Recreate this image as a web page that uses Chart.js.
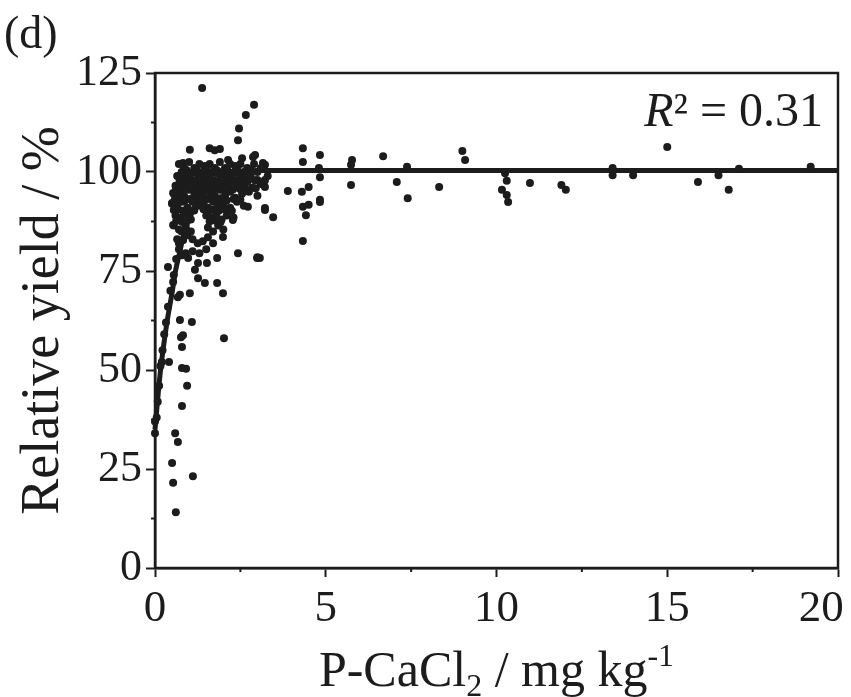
<!DOCTYPE html>
<html>
<head>
<meta charset="utf-8">
<script src="https://cdn.jsdelivr.net/npm/chart.js@4.4.1/dist/chart.umd.min.js"></script>
<style>
  body { margin: 0; background: #fff; }
  #wrap { width: 851px; height: 697px; }
</style>
</head>
<body>
<div id="wrap"><canvas id="chart" width="851" height="697"></canvas></div>
<script>
// P-CaCl2 (mg/kg) and relative yield (%)
const pCaCl2 = [
    // sparse points right of the cluster
    4.33, 4.33, 4.83, 4.8, 4.83, 4.83, 5.74, 5.77, 5.74, 6.68, 7.38, 7.08, 7.4, 8.32,
    9.0, 9.08, 10.3, 10.16, 10.3, 10.34, 10.25, 10.98, 12.03, 11.9, 13.4, 13.4, 14.0,
    15.0, 15.9, 16.5, 16.8, 17.1, 19.2,
    4.33, 4.5, 4.5, 4.42, 4.83, 4.33, 3.89, 4.3,
    3.22, 3.22, 3.22, 3.22, 3.46, 3.07,
    // upper outliers
    1.38, 2.9, 2.66, 2.46, 2.43, 1.02, 1.6, 1.9, 2.55, 2.87, 0.82, 2.14, 3.16, 2.93, 1.75,
    // below the cluster
    0.53, 0.5, 2.72, 3.22, 0.53, 0.82, 2.28, 1.99, 2.43, 3.0,
    0.38, 0.79, 0.97, 1.26, 1.52, 1.82, 2.99, 1.17, 1.26, 1.46, 1.82, 1.99, 1.02, 0.73,
    0.53, 1.08, 0.73, 0.82, 0.76, 2.02, 0.79, 0.41, 0.79, 0.91, 0.94, 0.79, 0.59, 0.67,
    0.5, 1.11, 0.53, 0.61, 0.0, 0.0, 0.2, 0.67,
    // along the rising curve
    0.05, 0.08, 0.12, 0.16, 0.22, 0.27, 0.32, 0.38, 0.45, 0.55, 0.62, 0.7, 0.78,
    // dense cluster
    0.7, 0.85, 1.0, 1.15, 1.3, 1.45, 1.6, 1.75, 1.9, 2.05, 2.2, 2.35, 2.5, 2.7, 2.9, 3.1,
    0.78, 0.92, 1.08, 1.22, 1.38, 1.52, 1.68, 1.82, 1.98, 2.12, 2.28, 2.42, 2.6, 2.8, 3.0,
    0.65, 0.8, 0.95, 1.1, 1.25, 1.4, 1.55, 1.7, 1.85, 2.0, 2.15, 2.3, 2.45, 2.6, 2.8, 3.0, 3.3,
    0.72, 0.88, 1.02, 1.18, 1.32, 1.48, 1.62, 1.78, 1.92, 2.08, 2.22, 2.38, 2.52, 2.7, 2.92, 3.2,
    0.6, 0.75, 0.9, 1.05, 1.2, 1.35, 1.5, 1.65, 1.8, 1.95, 2.1, 2.25, 2.4, 2.6, 2.85, 3.1,
    0.62, 0.78, 0.92, 1.08, 1.22, 1.38, 1.52, 1.68, 1.82, 1.98, 2.12, 2.28, 2.48, 2.68, 2.95,
    0.55, 0.7, 0.85, 1.0, 1.15, 1.3, 1.45, 1.6, 1.75, 1.9, 2.05, 2.2, 2.35, 2.55, 2.75, 3.0,
    0.58, 0.72, 0.88, 1.02, 1.18, 1.32, 1.48, 1.62, 1.78, 1.92, 2.1, 2.3, 2.5,
    0.5, 0.65, 0.8, 0.95, 1.1, 1.25, 1.4, 1.55, 1.7, 1.85, 2.0, 2.2, 2.4, 2.6,
    0.55, 0.68, 0.82, 0.98, 1.15, 1.42, 1.58, 1.72, 1.88, 2.05, 2.25,
    0.6, 0.75, 0.9, 1.05, 1.5, 1.65, 1.8, 1.95, 2.1, 2.3,
    0.62, 0.8, 0.95, 1.6, 1.78, 1.92,
    0.55, 0.7, 0.9, 1.05, 1.55, 1.7, 1.85, 2.0,
    0.65, 0.82, 0.95, 1.1, 1.25, 1.4, 1.55, 1.7,
    0.7, 0.9, 1.1, 1.3, 1.5
];
const relYield = [
    106, 102.5, 104.3, 101, 98.7, 93, 101.8, 103, 96.7, 104, 101.3, 97.5, 93.4, 96.2,
    105.3, 103, 97.8, 95.5, 94.2, 92.4, 99.7, 97.2, 95.5, 96.7, 101, 99.2, 99.2,
    106.3, 97.5, 99.2, 95.5, 100.8, 101.3,
    91.2, 96.2, 91.7, 89.1, 92.4, 82.6, 95.2, 95,
    101.8, 98, 96.2, 90.9, 88.6, 78.3,
    121.2, 117, 114.4, 111, 108, 105.6, 106, 105.8, 103.5, 103.8, 102.3, 103, 102.3, 104.3, 105.5,
    94.7, 92.2, 91.2, 90.4, 86.6, 82.8, 87.9, 83.6, 79.5, 78.5,
    76, 79, 78.3, 77, 77, 78.3, 78.3, 75.3, 73.2, 72, 72, 69.4, 69.4, 69,
    72.2, 62.1, 62.6, 58.8, 58.3, 58, 55.8, 52, 50.5, 50.3, 46, 40.9, 34, 31.8,
    26.5, 23.2, 21.5, 14.1, 37, 34, 52, 68.4,
    38, 42, 46, 51, 55, 59, 62, 66, 70, 74, 78, 82, 85,
    102, 101, 102.5, 101, 102, 101.5, 102, 101, 102.5, 101, 102, 101.5, 102, 101, 102, 101,
    100, 100.5, 99.8, 100.3, 100, 100.6, 99.9, 100.4, 100, 100.5, 99.8, 100.3, 100, 100.5, 100,
    99, 98.5, 99.5, 98, 99.5, 98.5, 99, 98, 99.5, 98.5, 99, 98, 99.5, 98.5, 99, 98, 99,
    97.8, 97.5, 98, 97.7, 97.9, 97.5, 98, 97.6, 97.9, 97.5, 98, 97.7, 97.8, 97.5, 97.9, 97.6,
    96.5, 97, 96, 97.5, 96.5, 97, 96, 97.5, 96.5, 97, 96, 97.5, 96.5, 97, 96, 97,
    95.8, 95.5, 96, 95.6, 95.9, 95.5, 96, 95.7, 95.9, 95.5, 96, 95.6, 95.8, 95.5, 95.9,
    94.5, 95, 94, 95.5, 94, 95, 93.5, 95, 94, 95.5, 94, 95, 93.5, 94.5, 95, 94,
    93, 93.4, 92.8, 93.2, 93, 93.5, 92.9, 93.3, 93, 93.4, 92.8, 93.2, 93,
    92, 91.5, 92.5, 91, 92.5, 91.5, 92, 91, 92.5, 91.5, 92, 91, 92.5, 91.5,
    90.4, 90.6, 90.2, 90.5, 90.3, 90.6, 90.2, 90.5, 90.3, 90.6, 90.2,
    89, 88.5, 89.5, 88, 89, 88.5, 89.5, 88, 89, 88.5,
    87.6, 87.4, 87.8, 87.5, 87.7, 87.4,
    86.5, 85.5, 86, 85, 86, 85, 86.5, 85.5,
    83, 82.8, 84, 83, 82, 82.5, 83.5, 82,
    80.5, 79.5, 80, 79.5, 80.5
];

// fitted response curve
const fitX = [0, 0.15, 0.35, 0.5, 0.6, 0.73, 0.85, 1.0, 1.2, 1.5, 2.0, 2.5, 3.0, 20];
const fitY = [35, 49, 62, 69.5, 75, 80, 84.5, 88, 92, 95.5, 98.5, 99.8, 100.4, 100.4];

const yTicks = [0, 25, 50, 75, 100, 125];
const xTicks = [0, 5, 10, 15, 20];

const fontFamily = "'Liberation Serif', 'Times New Roman', serif";
const ink = "#1c1c1c";

// box, minor ticks and the extra texts
const decorations = {
    id: "decorations",
    afterDraw(chart) {
        const ctx = chart.ctx;
        const area = chart.chartArea;
        const xs = chart.scales.x;
        const ys = chart.scales.y;

        ctx.save();
        ctx.strokeStyle = ink;
        ctx.lineWidth = 2.5;
        ctx.strokeRect(area.left, area.top, area.right - area.left, area.bottom - area.top);

        ctx.lineWidth = 2;
        for (let v = 12.5; v < 125; v += 25) {
            const py = ys.getPixelForValue(v);
            ctx.beginPath();
            ctx.moveTo(area.left - 4, py);
            ctx.lineTo(area.left, py);
            ctx.stroke();
        }
        for (let v = 2.5; v < 20; v += 5) {
            const px = xs.getPixelForValue(v);
            ctx.beginPath();
            ctx.moveTo(px, area.bottom);
            ctx.lineTo(px, area.bottom + 4);
            ctx.stroke();
        }

        ctx.fillStyle = ink;
        ctx.textBaseline = "alphabetic";

        // panel letter
        ctx.font = `46px ${fontFamily}`;
        ctx.textAlign = "left";
        ctx.fillText("(d)", 4, 48);

        // R² label
        const rest = "\u00b2 = 0.31";
        ctx.font = `48px ${fontFamily}`;
        const restW = ctx.measureText(rest).width;
        ctx.fillText(rest, 823 - restW, 126);
        ctx.font = `italic 48px ${fontFamily}`;
        ctx.textAlign = "right";
        ctx.fillText("R", 823 - restW, 126);

        // x-axis title with sub/superscript
        const parts = [
            { t: "P-CaCl", size: 50, dy: 0 },
            { t: "2", size: 32, dy: 10 },
            { t: " / mg kg", size: 50, dy: 0 },
            { t: "-1", size: 32, dy: -20 }
        ];
        let total = 0;
        for (let p of parts) {
            ctx.font = `${p.size}px ${fontFamily}`;
            p.w = ctx.measureText(p.t).width;
            total += p.w;
        }
        let cx = (area.left + area.right) / 2 - total / 2;
        ctx.textAlign = "left";
        for (let p of parts) {
            ctx.font = `${p.size}px ${fontFamily}`;
            ctx.fillText(p.t, cx, 686 + p.dy);
            cx += p.w;
        }
        ctx.restore();
    }
};

function createChart() {
    const points = [];
    for (let i = 0; i < pCaCl2.length; i++)
        points.push({ x: pCaCl2[i], y: relYield[i] });

    const fit = [];
    for (let i = 0; i < fitX.length; i++)
        fit.push({ x: fitX[i], y: fitY[i] });

    new Chart(document.querySelector("#chart"), {
        type: "scatter",
        data: {
            datasets: [{
                label: "Observed",
                data: points,
                backgroundColor: ink,
                borderColor: ink,
                pointRadius: 4,
                pointBorderWidth: 0,
                clip: false
            }, {
                label: "Fit",
                type: "line",
                data: fit,
                borderColor: ink,
                borderWidth: 5,
                pointRadius: 0,
                cubicInterpolationMode: "monotone",
                fill: false,
                clip: false
            }]
        },
        options: {
            responsive: false,
            animation: false,
            events: [],
            layout: { padding: { top: 73, right: 13, left: 0, bottom: 0 } },
            plugins: {
                legend: { display: false },
                tooltip: { enabled: false }
            },
            scales: {
                x: {
                    type: "linear",
                    min: 0,
                    max: 20,
                    afterFit(scale) {
                        scale.height = 129;
                        scale.paddingLeft = 0;
                        scale.paddingRight = 0;
                    },
                    afterBuildTicks(scale) { scale.ticks = xTicks.map(v => ({ value: v })); },
                    ticks: {
                        color: ink,
                        font: { family: fontFamily, size: 45 },
                        padding: 5,
                        maxRotation: 0,
                        // last label sits inside the canvas, as in the figure
                        callback: (v) => v === 20 ? "20   " : String(v)
                    },
                    grid: { drawOnChartArea: false, tickLength: 9, tickWidth: 2, tickColor: ink },
                    border: { color: ink, width: 2.5 }
                },
                y: {
                    type: "linear",
                    min: 0,
                    max: 125,
                    afterFit(scale) {
                        scale.width = 155;
                        scale.paddingTop = 0;
                        scale.paddingBottom = 0;
                    },
                    afterBuildTicks(scale) { scale.ticks = yTicks.map(v => ({ value: v })); },
                    ticks: {
                        color: ink,
                        font: { family: fontFamily, size: 44 },
                        padding: 4
                    },
                    title: {
                        display: true,
                        text: "Relative yield / %",
                        color: ink,
                        font: { family: fontFamily, size: 54 },
                        padding: { top: 11, bottom: 0 }
                    },
                    grid: { drawOnChartArea: false, tickLength: 9, tickWidth: 2, tickColor: ink },
                    border: { color: ink, width: 2.5 }
                }
            }
        },
        plugins: [decorations]
    });
}

createChart();
</script>
</body>
</html>
